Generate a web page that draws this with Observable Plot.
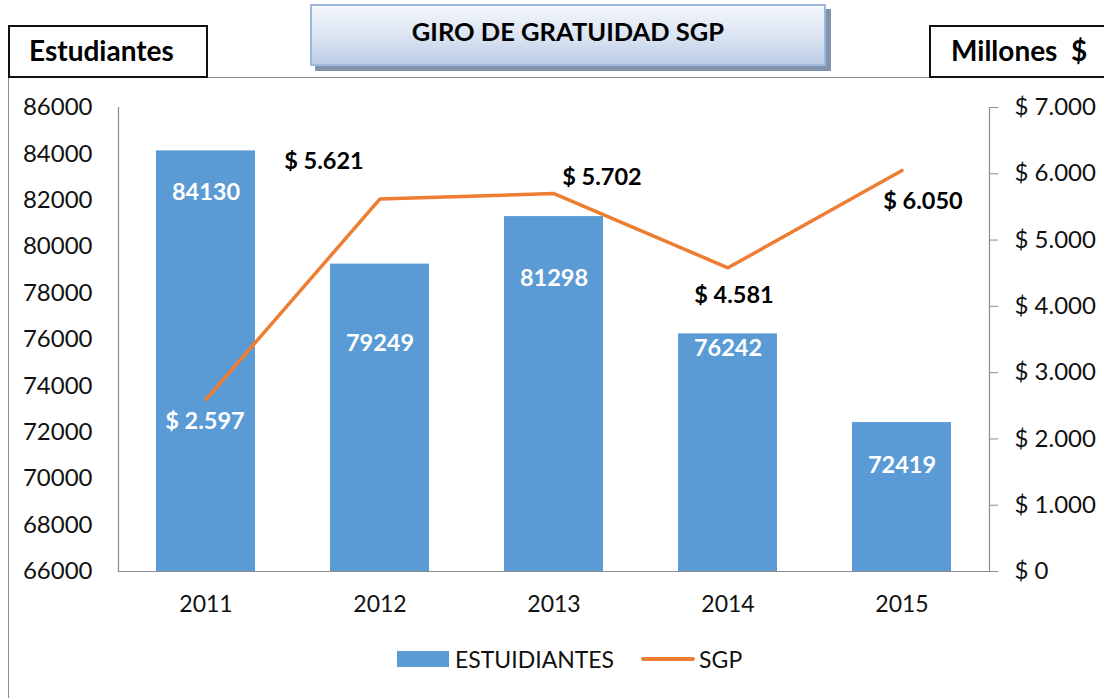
<!DOCTYPE html>
<html>
<head>
<meta charset="utf-8">
<script src="https://cdn.jsdelivr.net/npm/d3@7"></script>
<script src="https://cdn.jsdelivr.net/npm/@observablehq/plot@0.6"></script>
<style>
  html, body { margin: 0; padding: 0; background: #fff; }
  #wrap { position: relative; width: 1104px; height: 698px; overflow: hidden; font-family: Lato, "Open Sans", sans-serif; }
  #frameBorder { position: absolute; left: 8px; top: 77px; width: 1200px; height: 700px; border-left: 1.5px solid #8c8c8c; border-top: 1.5px solid #8c8c8c; }
  #chart { position: absolute; left: 0; top: 0; }
  .box { position: absolute; background: #fff; border: 2px solid #111; box-sizing: border-box; font-weight: bold; font-size: 28px; color: #000; display: flex; align-items: center; padding-bottom: 4px; }
  #title { position: absolute; left: 310px; top: 4px; width: 516px; height: 62px; box-sizing: border-box;
    border: 2px solid #9cb8db; background: linear-gradient(#f3f6fb, #d9e3f1 55%, #bccde6);
    box-shadow: 5px 5px 0 #8193ad; display: flex; align-items: center; justify-content: center;
    font-weight: bold; font-size: 25.5px; color: #000; padding-bottom: 8px; }
  #legend { position: absolute; top: 645px; left: 397px; display: flex; align-items: center; font-size: 23px; color: #111; }
  .sw { display: inline-block; }
</style>
</head>
<body>
<div id="wrap">
  <div id="frameBorder"></div>
  <div id="chart"></div>
  <div class="box" style="left:8px;top:25px;width:200px;height:53px;padding-left:19px;">Estudiantes</div>
  <div class="box" style="left:929px;top:25px;width:190px;height:53px;padding-left:20px;">Millones&nbsp; $</div>
  <div id="title">GIRO DE GRATUIDAD SGP</div>
  <div id="legend">
    <span class="sw" style="width:52px;height:16px;background:#5b9bd5;margin-right:6px;"></span>
    <span>ESTUIDIANTES</span>
    <span class="sw" style="width:54px;height:3.5px;background:#ed7d31;margin-left:27px;margin-right:4px;border-radius:2px;"></span>
    <span>SGP</span>
  </div>
</div>
<script>
const years = ["2011", "2012", "2013", "2014", "2015"];
const estudiantes = [84130, 79249, 81298, 76242, 72419];
const sgp = [2597, 5621, 5702, 4581, 6050];
const leftTicks = [66000, 68000, 70000, 72000, 74000, 76000, 78000, 80000, 82000, 84000, 86000];
const rightTicks = [0, 1000, 2000, 3000, 4000, 5000, 6000, 7000];

// layout/style config (pixel offsets of labels)
const barLabelDy = [42, 79, 62, 15, 43];
const sgpLabelDx = [-1, -56, 48, 6, 21];
const sgpLabelDy = [22, -37, -16, 28, 31];
const sgpLabelFill = ["#fff", "#000", "#000", "#000", "#000"];

const yMin = 66000, yMax = 86000, rMax = 7000;
const toLeft = v => yMin + v * (yMax - yMin) / rMax;
const fromLeft = y => (y - yMin) * rMax / (yMax - yMin);
const money = v => "$ " + d3.format(",")(Math.round(v)).replace(/,/g, ".");

const data = years.map((y, i) => ({year: y, est: estudiantes[i], sgp: sgp[i], sgpY: toLeft(sgp[i])}));

const font = {fontFamily: "Lato, 'Open Sans', sans-serif", fontSize: "24px", color: "#111", background: "transparent"};

const barLabels = data.map((d, i) => Plot.text([d], {x: "year", y: "est", text: d => String(d.est), dy: barLabelDy[i], fill: "#fff", fontWeight: "bold", fontSize: 23.5}));
const sgpLabels = data.map((d, i) => Plot.text([d], {x: "year", y: "sgpY", text: d => money(d.sgp), dx: sgpLabelDx[i], dy: sgpLabelDy[i], fill: sgpLabelFill[i], fontWeight: "bold", fontSize: 23.5}));

const chart = Plot.plot({
  width: 1104,
  height: 640,
  marginLeft: 118,
  marginRight: 115,
  marginTop: 107,
  marginBottom: 69,
  style: font,
  x: {domain: years, paddingInner: 0.43, paddingOuter: 0.215, label: null},
  y: {domain: [yMin, yMax], label: null},
  marks: [
    Plot.barY(data, {x: "year", y1: yMin, y2: "est", fill: "#5b9bd5"}),
    Plot.frame({anchor: "left", stroke: "#8c8c8c", strokeWidth: 1.2}),
    Plot.frame({anchor: "right", stroke: "#8c8c8c", strokeWidth: 1.2}),
    Plot.frame({anchor: "bottom", stroke: "#8c8c8c", strokeWidth: 1.2}),
    Plot.axisY({anchor: "left", ticks: leftTicks, tickSize: 0, tickPadding: 26, tickFormat: d => String(d), fontSize: 24, label: null}),
    Plot.axisY({anchor: "right", ticks: rightTicks.map(toLeft), tickSize: 8, tickPadding: 17, tickFormat: d => money(fromLeft(d)), fontSize: 24, stroke: "#8c8c8c", label: null}),
    Plot.axisX({anchor: "bottom", tickSize: 0, tickPadding: 24, fontSize: 23, label: null}),
    Plot.line(data, {x: "year", y: "sgpY", stroke: "#ed7d31", strokeWidth: 3.5}),
    ...barLabels,
    ...sgpLabels
  ]
});
document.getElementById("chart").appendChild(chart);
</script>
</body>
</html>
